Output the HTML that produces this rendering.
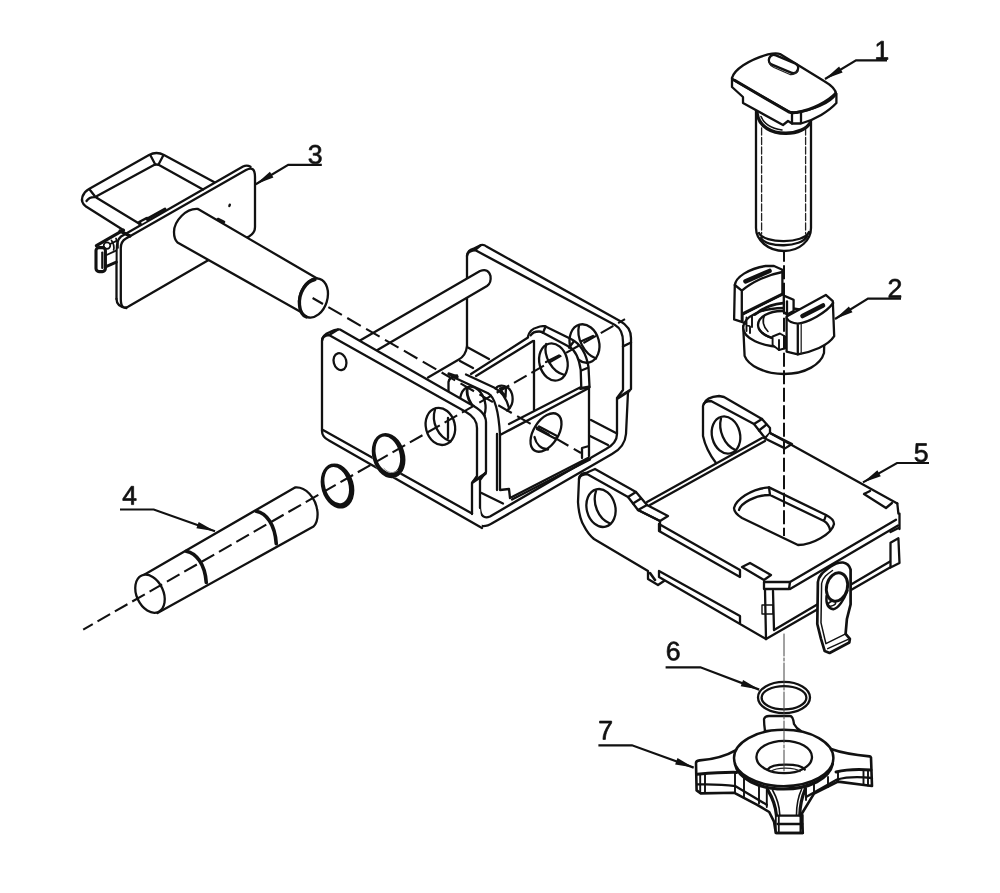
<!DOCTYPE html>
<html><head><meta charset="utf-8">
<style>
html,body{margin:0;padding:0;background:#fff;overflow:hidden;width:1000px;height:893px;}
svg{display:block;filter:blur(0.35px);}
text{font-family:"Liberation Sans",sans-serif;font-size:26px;fill:#111;stroke:#111;stroke-width:0.55px;}
.m{fill:none;stroke:#111;stroke-width:2.3;stroke-linecap:round;stroke-linejoin:round;}
.w{fill:#fff;stroke:#111;stroke-width:2.3;stroke-linecap:round;stroke-linejoin:round;}
.t{fill:none;stroke:#222;stroke-width:1.3;stroke-linecap:round;stroke-linejoin:round;}
.k{fill:none;stroke:#111;stroke-width:3.6;stroke-linecap:round;stroke-linejoin:round;}
.d{fill:none;stroke:#111;stroke-width:2.1;stroke-dasharray:14 5.5;}
.l{fill:none;stroke:#111;stroke-width:2.2;stroke-linecap:butt;stroke-linejoin:miter;}
.a{fill:#111;stroke:none;}
.g{fill:#111;stroke:#111;stroke-width:56;stroke-linejoin:round;}
</style></head>
<body>
<svg width="1000" height="893" viewBox="0 0 1000 893">
<rect width="1000" height="893" fill="#fff"/>

<!-- ===== PART 3 ===== -->
<g id="p3">
<!-- handle loop -->
<path class="m" d="M124,230.5 L86,206.5 Q80.5,202.5 82.5,196.5 Q84.5,191.5 89,189 L149,155 Q156.5,151 164,155 L214,182"/>
<path class="m" d="M139,223.5 L97,198 L97,196 L154,165 Q156.5,164 159,165 L203,189.5"/>
<path class="m" d="M90,190 L95.5,197 M86.5,201 Q90,196 97,197.5"/>
<path class="m" d="M150.5,155.5 L155,164 M163,156 L158.5,164.5"/>
<!-- plate -->
<path class="m" d="M116.5,299 V252 Q116.5,240 121,236.5 L243,166.5 Q247,164.5 250.5,166.8"/>
<path class="m" d="M116.5,299 Q116.5,306.5 126.4,308"/>
<path class="w" d="M120.8,299 V248 Q120.8,241.5 126,238.6 L246,170 Q255,165 255,177 V227 Q255,233 249,236.5 L247,237.6 L208.6,260 L128,306.8 Q120.8,310 120.8,299 Z"/>
<ellipse class="a" cx="229.6" cy="205.4" rx="1.3" ry="1.9" transform="rotate(20 229.6 205.4)"/>
<!-- cylinder -->
<path class="w" d="M198,209 C186,208 174,221 174,232 C174,238 176,241 177.5,242.5 L300,311.5 L318,279 Z"/>
<ellipse class="w" cx="313.5" cy="298" rx="13.8" ry="20" transform="rotate(17.5 313.5 298)"/>
<path class="k" d="M315,279.5 C306,281 298.5,293 299.5,305 C300,311 302.5,315.5 306.5,317" style="stroke-width:3.3"/>
<path class="k" d="M218,219 L224,222" style="stroke-width:2.6"/>
<!-- latch -->
<path class="w" d="M95.5,247 L115.4,237 V263 L106,268.5 L103,272.5 L97,271 Z" style="stroke:none"/>
<path class="m" d="M96.4,245.6 L123.4,230.2" style="stroke-width:3.2"/>
<path class="m" d="M101.5,248.3 L117,240.6" style="stroke-width:1.8"/>
<circle class="w" cx="107" cy="245.6" r="3.3" style="stroke-width:1.7"/>
<path class="m" d="M111.5,240.5 Q114.8,245 113.6,250 M116,238.5 Q118.6,243 118,248" style="stroke-width:1.7"/>
<rect x="96" y="247.6" width="9.4" height="24" rx="3" class="w" style="stroke-width:3.1"/>
<path class="m" d="M102.3,252.5 V268" style="stroke-width:2.2"/>
<path class="m" d="M106.6,255 L116,250.6" style="stroke-width:1.8"/>
<path class="m" d="M106.6,266.4 L116.3,262.2" style="stroke-width:3"/>
<path class="m" d="M120,231 L130,236" style="stroke-width:3.2"/>
<!-- small marks -->
<path class="k" d="M139.5,222.8 L147,218.8" style="stroke-width:4"/>
<path d="M141.5,223 L146.5,220.4" style="stroke:#fff;stroke-width:1.5;fill:none"/>
<path class="k" d="M147,219 L165,209" style="stroke-width:2.8"/>
</g>


<!-- ===== MAIN BRACKET ===== -->
<g id="bracket">
<!-- rear wall -->
<path class="w" d="M467,346 V256 Q468,250 473,249 L481,245 Q484,244.3 486.5,246.5 L620,321 Q631,327 631,338 V389 L628,392 L626,434 Q625,447 612,454 L482,528 L428,400 Z" style="stroke:none"/>
<path class="m" d="M467,256 Q468,250 473,249 L481,245 Q484,244.3 486.5,246.5 L620,321 Q631,327 631,338 V389 L628,392 L626,434 Q625,447 612,454 L493,522.8 C484,528.5 474,528 473,513"/>
<path class="m" d="M467,346 V256 Q467,251 475,250 L615,325 Q623,329.5 623,342 V390 L617,398 V434 Q617,443 606,449 L490,516.5 Q481,520 480,508"/>
<path class="m" d="M475,250 L481,245.2 M623,346.4 L631,342.5"/>
<path class="k" d="M618,398 L629,391" style="stroke-width:2.8"/>
<!-- rear wall hole -->
<ellipse class="w" cx="584.5" cy="343.5" rx="14.6" ry="19.5" transform="rotate(-15 584.5 343.5)"/>
<path class="m" d="M579,325.5 C576,338 584,354 596,358.5 M581.3,341.2 L593,336"/>
<!-- fillet / floor lines -->
<path class="m" d="M467,346 Q466,356 458,360 L428,377.5"/>
<path class="m" d="M467,347 L489,359 M460,361 L473,368 M591,420 L616,433 M590,436 L608,445"/>
<!-- rod -->
<path class="w" d="M360,340.5 L480,271 Q488.5,268 490.5,276 Q491.5,283 487,286 L377,350.3 Z" style="stroke:none"/>
<path class="m" d="M360,340.5 L480,271 Q488.5,268 490.5,276 Q491.5,283 487,286 L377,350.3"/>
<!-- inner piece: left web top edge -->
<path class="m" d="M471,374 L528,337.5 M476,376 L533,341"/>
<!-- rear tab -->
<path class="w" d="M534,410 V341 L530.6,335.4 Q533,331.5 539,331.5 Q541,331.5 543,332.75 L569.6,347 Q577,351 580.7,369.8 L581.3,388 Z" style="stroke:none"/>
<path class="m" d="M534,410 V341 M530.6,335.4 Q533,331.5 539,331.5 Q541,331.5 543,332.75 L569.6,347 Q578,352 580.7,369.8 L581.3,388"/>
<path class="m" d="M528,336.5 Q530,329 537,327.5 Q541,325.5 545,326.25 L571,339 Q585,346 588.5,367 L589.5,387"/>
<path class="m" d="M545.6,326.5 L543,332.75 M573.5,341.8 L569,347.7 M588,367.8 L581.3,370.5"/>
<ellipse class="m" cx="553.4" cy="362" rx="14" ry="18.8" transform="rotate(-14 553.4 362)"/>
<path class="m" d="M546.2,344 C543,356 552,372 564.5,375 M546,362 L559,355.5"/>
<!-- front tab of inner piece -->
<path class="m" d="M448.5,391 V382 Q449.5,376.5 457,375.5"/>
<path class="k" d="M449,374 L457,376.8" style="stroke-width:3.4"/>
<path class="m" d="M466,374.5 L494,387.5 Q505,393 509,408"/>
<path class="m" d="M452,376.5 L488,393.2 Q498,398.5 500,435"/>
<path class="m" d="M495.5,388.5 C500,383.5 509,385 512,394 C514,402 511,408 507,410.5"/>
<path class="m" d="M500,388.5 L506,387.3 L505.5,397 Z"/>
<ellipse class="m" cx="472.8" cy="404.4" rx="12.4" ry="18" transform="rotate(-14 472.8 404.4)"/>
<path class="m" d="M467.5,387.5 C465,397 474,412 484.5,415.5" style="stroke-width:2.8"/>
<path class="m" d="M459.4,411.3 L465.6,408 M466.2,410.6 L472.5,407.5"/>
<!-- right web (plate with hole) -->
<path class="w" d="M500,435 L509,424 L580,387 L589,388 V456 L588,458 L510,498 L509,489 L500,490 Z" style="stroke:none"/>
<path class="m" d="M509,424 L580,387.5 M500,435 L589,388 V456 M497,434 V490 M500,435 V490 L509,489 L510,498 L588,458 M582,458 V448 L589,446"/>
<path class="k" d="M580.5,388.5 L589,387" style="stroke-width:3"/>
<ellipse class="m" cx="546" cy="432.5" rx="12.3" ry="21.4" transform="rotate(32.6 546 432.5)"/>
<path class="m" d="M534.5,437 C536,444 541,449 548,449.5" />
<path class="m" d="M537,429 L555,438.5 M539,426.5 L557,436"/>
<!-- lines under right web: floor -->
<path class="m" d="M481.5,493 L503,503.5"/>
<path class="m" d="M512,499.5 L590,459.5"/>
<!-- front wall -->
<path class="w" d="M322,341 Q322,335 330,332 Q336,328.5 340,329.5 L470,404 Q486,412 486,422 V472 L480,480 V508 L482,528 L329,440.5 Q322,437 322,431 Z" style="stroke:none"/>
<path class="m" d="M322,341 Q322,335 330,332 Q336,328.5 340,329.5 L470,404 Q486,412 486,422 V472 L480,480 V508"/>
<path class="m" d="M322,431 V341 Q322,335.5 329,335 L466,412 Q477,418 477,428 V476 L472,483 V514"/>
<path class="m" d="M322,431 Q322,437 329,440.5 L482,528 M323,430 L472,513.5 M330,334.5 L338,329.6"/>
<path class="k" d="M473,482 L485.5,473.5" style="stroke-width:2.8"/>
<ellipse class="m" cx="340" cy="361.6" rx="6.3" ry="8.6" transform="rotate(-15 340 361.6)"/>
<ellipse class="m" cx="440.4" cy="426.4" rx="14.5" ry="18.8" transform="rotate(-14 440.4 426.4)"/>
<path class="m" d="M435,409.5 C431,422 438,437 450.5,441.5 M448,418 V438"/>
<!-- rod lines over plate top -->

<!-- ring on bracket -->
<path d="M404.17,451.13 A16.20,22.80 -16.0 1 0 373.03,460.07 A16.20,22.80 -16.0 1 0 404.17,451.13 Z" fill="#fff" stroke="none"/>
<path d="M404.17,451.13 A16.20,22.80 -16.0 1 0 373.03,460.07 A16.20,22.80 -16.0 1 0 404.17,451.13 Z M398.95,451.50 A11.60,18.60 -16.0 1 0 376.65,457.90 A11.60,18.60 -16.0 1 0 398.95,451.50 Z" fill="#111" fill-rule="evenodd" stroke="none"/>
<path class="t" d="M384,468.5 C388,473 393,474 397.5,470.5" style="stroke:#888;stroke-width:1"/>
</g>

<!-- ===== PART 5 ===== -->
<g id="p5">
<!-- rear ear -->
<path class="w" d="M716,463 Q706,450 703,436 L704,404 Q706,397 719,396 L724,397 L762,419 L770,428 V433 L765,441 Z" style="stroke:none"/>
<path class="m" d="M716,463 Q706,450 703,436 V406 Q703.5,401 711,401 L754,424 L765,438"/>
<path class="m" d="M704,404 Q706,397 719,396 L724,397 L762,419 L770,428 V433"/>
<path class="m" d="M754,424 L762,419 M759,430.5 L766.5,424.5 M765,438 L770,433"/>
<ellipse class="m" cx="726" cy="435" rx="14" ry="18.8" transform="rotate(-14 726 435)"/>
<path class="m" d="M721,418.5 C718,430 724,445 735.5,450"/>
<!-- main body -->
<path class="w" d="M650,505 L765,441 L770,433 L897.3,503.5 L899.5,529 V563 L766,639 L659,577 L648,571 L594,539 Q580,525 578,502 L579,479 Q580,473 586,473 L595,469 L636,492 L647,502 Z" style="stroke:none"/>
<!-- NW double line -->
<path class="m" d="M647,502 L762,438 M650,505 L765,441"/>
<!-- NE edge -->
<path class="m" d="M770,433 L897.3,503.5"/>
<!-- notches -->
<path class="m" d="M770,433 L792,444 L785,448.4 L764,438"/>
<path class="m" d="M864,494 L870,491 M864,494 L886,508 L892,503"/>
<path class="m" d="M742,567 L750,563 L771,575 L764,580 Z"/>
<path class="m" d="M647,505 L668,516 L660,521 L638,510"/>
<!-- front ear -->
<path class="m" d="M579,479 Q579.5,474.5 587,474 L628,497 L638,510 L660,521 V531"/>
<path class="m" d="M579,479 Q580,473 586,473 L595,469 L636,492 L647,505"/>
<path class="m" d="M628,497 L636,492 M633,503.5 L641,498.5 M638,510 L647,505"/>
<path class="m" d="M579,479 L578,502 Q579,518 584,526 Q588,534 594,539 L648,571 V579 L658,585 L664,581"/>
<ellipse class="m" cx="601" cy="508" rx="14.3" ry="19.2" transform="rotate(-14 601 508)"/>
<path class="m" d="M596,491 C592,503 598,519 610,523.5"/>
<!-- SW face strips -->
<path class="m" d="M659,531 V524 L740,570 V577 Z"/>
<path class="m" d="M659,577 V571 L740,616 V623 M659,577 L766,639"/>
<path class="k" d="M650,573 L655,580" style="stroke-width:2.6"/>
<!-- front corner -->
<path class="m" d="M764,582 H790 L789,589 H764 Z"/>
<path class="m" d="M765,590 L766,639 M773,591 L774,630"/>
<path class="m" d="M762,605 H773 V614 H762 Z" style="stroke-width:1.4"/>
<!-- SE face -->
<path class="m" d="M790,582 L896,519.75 M790,589 L898,525.5"/>
<path class="m" d="M774,630 L890,561.5 M766,639 L890,567.5"/>
<path class="m" d="M897.3,503.5 L898.4,513.6 H899.5 V529 M890.5,542.7 L898.4,538.2 L899.5,563 L890.5,567.5 Z M890.5,532 L898.5,528"/>
<!-- slot -->
<path class="m" d="M734,508 C736,500 750,489 769,487.4 L826,515 Q834,519 834,524 C832,534 812,545 798,545 L742,518 Q734,513 734,508 Z"/>
<path class="m" d="M739,510 C741,503 755,495 770,495 L824,521 Q829,524 830,530 M769,487.4 L770,495 M826,515 L824,521"/>
<!-- clip -->
<path class="w" d="M817.9,582 C818.5,575 824.7,571 830,567 C835,563.5 839.5,562.3 843,562.5 Q849,563.5 850.6,569.7 V604.3 L846.9,619 L845.6,633.8 L849.9,638.8 L849.3,642.5 L829.6,653 L824.7,651 L821,638.8 L817.3,624 Z" style="stroke-width:2.7"/>
<path class="m" d="M821.6,583.5 C822.5,577.5 827.5,574 832.5,570.5 M821.6,583.5 L821,622.8 L825.9,643.7 L845.6,633.8 M827.7,648.6 L848.1,639.4" style="stroke-width:1.5"/>
<ellipse class="m" cx="837" cy="587" rx="10.4" ry="14.4" transform="rotate(14 837 587)" style="stroke-width:2.9"/>
<path class="m" d="M826.5,596 C825.8,604 828.5,608.5 833.3,609.2 C838,608.5 844,600 847.5,590.7" style="stroke-width:2.4"/>
<ellipse class="m" cx="832" cy="603.6" rx="3.8" ry="2.2" transform="rotate(-20 832 603.6)" style="stroke-width:1.4"/>
</g>

<!-- ===== PART 7 knob ===== -->
<g id="p7">
<!-- top arm -->
<path class="w" d="M765,731 Q764,724 764,719 Q765,716 769,716 H790 Q793,716 794,724 Q796,728 801,731 Z"/>
<!-- arms silhouette -->
<path class="w" d="M737,749.6 C726,756 712,759.5 699.6,760.4 Q696,761 696,763 L696.6,790.4 L700.8,793.4 L734.4,792.8 L757.2,804.8 L769.2,812 L774,821.6 L775.8,833 H802.8 L801,815 L814,793.6 L838,781.6 L872,786 L871,757.6 Q870.5,756.5 869.6,756.4 C855,755 842,753 831,749 Z" style="stroke-width:2.6"/>
<!-- left arm lines -->
<path class="m" d="M697.2,774.2 C712,773 726,772.2 736.8,772.4" style="stroke-width:3"/>
<path class="m" d="M697.2,784.4 C712,784 724,784.5 735.6,786.2 L766.8,804.8"/>
<path class="m" d="M700.2,775 V793 M705,774.6 V792.6 M735,772.5 V792.6 M744,777 V796.5 M759,787 V803.5 M766.8,789 V807" style="stroke-width:1.9"/>
<!-- right arm lines -->
<path class="m" d="M871,770 C858,769 846,769.5 836,772" style="stroke-width:3"/>
<path class="m" d="M872,778 C859,776.5 846,777 837,779.5 L806,797"/>
<path class="m" d="M868,770.5 V785.5 M863.5,770 V785 M838,772 V781.6 M828,777 V787 M814,784 V793.6 M806,788 V800" style="stroke-width:1.9"/>
<!-- bottom arm -->
<path class="m" d="M768,790.4 C772,797 775.5,806 776.4,815 M805.2,789.2 C802,797 800,806 799.8,815" style="stroke-width:3.2"/>
<path class="m" d="M772.5,790 C777,798 779.5,806 779.8,815 M801.5,789.5 C798,797 796.5,806 796.5,815" style="stroke-width:1.6"/>
<path class="m" d="M776.4,815.6 H801.6 M777.6,824 H802.3 M776.4,833 H802.8" />
<path class="m" d="M775.8,815 V833 M778.8,816 V832.4 M800.4,816 V832.4 M802.8,815 V832.4" style="stroke-width:1.8"/>
<!-- disc -->
<path class="w" d="M734,760 C734,748 752,730 783.7,730 C815,730 833.5,748 833.5,760 C833.5,775 812,789.5 783.7,789.5 C755,789.5 734,775 734,760 Z" style="stroke:none"/>
<path class="m" d="M735.2,764 C738,778 758,789 783.7,789 C810,789 829.5,778 832.5,764" style="stroke-width:3.2"/>
<ellipse class="w" cx="783.7" cy="758" rx="49.7" ry="28.2" style="stroke-width:2.5"/>
<ellipse class="m" cx="784.2" cy="757" rx="27.8" ry="16.2"/>
<path class="m" d="M767.6,769.6 C772,763 800,763 804.8,769.6"/>
<path class="t" d="M771,771.5 C776,767 795,767 800,771.5"/>
</g>

<!-- ===== PART 4 pin ===== -->
<g id="p4">
<path class="w" d="M143.75,575 L295,487.5 C305,486.5 316,497 317.5,512 C318,519 316,524 313.5,526.5 L157.5,613 Z"/>
<ellipse class="w" cx="150" cy="593.75" rx="13.4" ry="20" transform="rotate(-24.6 150 593.75)"/>
<path class="k" d="M186.25,551.25 C196,553 205,564 206.25,582.5"/>
<path class="k" d="M256.25,511.25 C266,513 275,524 276.25,543.75"/>
</g>

<!-- rings -->
<path d="M353.07,481.53 A16.20,22.80 -16.0 1 0 321.93,490.47 A16.20,22.80 -16.0 1 0 353.07,481.53 Z M347.85,481.90 A11.60,18.60 -16.0 1 0 325.55,488.30 A11.60,18.60 -16.0 1 0 347.85,481.90 Z" fill="#111" fill-rule="evenodd" stroke="none"/>

<!-- ===== PART 1 bolt ===== -->
<g id="p1">
<!-- shaft -->
<path class="w" d="M756,108 V228 C756,240 768,251 784,251 C800,251 811,240 811,228 V120 Z"/>
<path class="m" d="M761,238 C766,248 802,248 807,236"/>
<path class="m" d="M759,233 C764,244 804,244 809,232"/>
<path class="t" d="M761.6,128 V234 M805.6,128 V234" style="stroke-dasharray:7 2.5"/>
<path class="m" d="M757,113 C759,127 772,133.5 786,133.3 C798,133 807,128.5 810,123" style="stroke-width:3.4"/>
<path class="m" d="M761,116.5 C764,124 772,128.5 782,130" style="stroke-width:1.6"/>
<!-- head -->
<path class="w" d="M732,78 V87 L743,97 V103 L783,125 L788,121 L792,123.5 H801 C815,120 829,111 836.4,103 V94 Z"/>
<path class="w" d="M732,78 C734,70 748,60 768,54.4 Q776,52.5 780,54 L824,81 Q836,88 836,94 C830,103 812,111 794,112.4 Q790.5,112.6 788,111 L737,82 Q733,80 732,78 Z"/>
<path class="m" d="M734.6,80.3 L788.5,111.8 Q792,113.4 797,112.4 C812,110 828,101.5 835.6,93.5" style="stroke-width:3"/>
<path class="m" d="M792,112.5 V123.5 M801,111.8 V123"/>
<path class="m" d="M774,60 L793,68" style="stroke-width:12.6;stroke:#111"/>
<path class="m" d="M774,60 L793,68" style="stroke-width:7.8;stroke:#fff"/>
<path class="t" d="M769,62.5 C770,65.5 772,66.5 774,67.5 L790,74.5 Q795,75 798,71"/>
</g>

<!-- ===== PART 2 clip ===== -->
<g id="p2">
<!-- base cylinder -->
<path class="w" d="M743.2,326 L744.6,355.8 C748,365 764,374 784,374 C806,374 821,364 824,353 L824.4,338 Z"/>
<!-- top ring of base -->
<ellipse class="w" cx="783.8" cy="327.5" rx="40.6" ry="19.5"/>
<ellipse class="w" cx="782" cy="325" rx="24" ry="14"/>
<path class="m" d="M759,329 C764,337 776,340.5 790,339.5" />
<path class="m" d="M764.5,315.5 C762,320 763,327 768,331.5" style="stroke-width:1.6"/>
<!-- center tabs -->
<path class="w" d="M783.8,295.6 L793.6,299.8 V311 L787,314.5 L783.8,312 Z"/>
<path class="m" d="M787,301.5 V314"/>
<path class="w" d="M772.6,336.5 L780,333.5 L786,337 V348 L779,350 L772.6,345 Z" style="stroke-width:1.9"/>
<path class="m" d="M779,340 V350" style="stroke-width:1.9"/>
<!-- left ear -->
<path class="w" d="M734.8,285 C736,277 748,269 765.6,266 L774,266 L782.4,269.7 V294.2 L742.5,314.5 V322.2 L734.1,319.4 Z"/>
<path class="m" d="M734.8,285 L741.8,290.7 C752,282 768,274.5 782.4,272 M741.8,290.7 V321"/>
<path class="m" d="M742.5,313.8 L782.4,294.2" style="stroke-width:3"/>
<path class="m" d="M755,314.5 C762,308.5 772,304.5 783,303.2" style="stroke-width:2.8"/>
<path class="k" d="M745.5,281.3 L769.5,271" style="stroke-width:4.6"/>
<path class="m" d="M742.5,322.2 L750,326.5 V333 M746.5,317.5 V331 M752,316 V327" style="stroke-width:1.9"/>
<!-- right ear -->
<path class="w" d="M786.6,316.6 L825.8,294.9 L832.8,301.2 L834.2,336.2 C828,346 812,352 797.8,354.4 L786.6,351.6 Z"/>
<path class="m" d="M786.6,318 C789,322 794,323.4 797.8,323.6 C808,322.5 826,313 833.2,303 M797.8,323.6 V354.4"/>
<path class="t" d="M801.2,323.4 V353.8"/>
<path class="k" d="M802.5,316 L823,305.5" style="stroke-width:4.6"/>
</g>

<!-- ===== PART 6 ring ===== -->
<ellipse class="m" cx="784" cy="697.5" rx="26" ry="15.6"/>
<ellipse class="m" cx="784" cy="697.7" rx="22.4" ry="11.6"/>

<!-- ===== dashed axes ===== -->
<path class="d" d="M312.6,298 L581,453" style="stroke-dasharray:15.6 6.2;stroke-dashoffset:3.6"/>
<path class="d" d="M83.2,629.6 L625,319.2" style="stroke-dasharray:14.5 5.5;stroke-dashoffset:3.5"/>
<path class="d" d="M784,251.7 V536" style="stroke-dasharray:14 3.5;stroke-dashoffset:4;stroke-width:2"/>
<path class="t" d="M784,634 V771" style="stroke:#444;stroke-width:1;stroke-dasharray:22 2 3 2"/>

<!-- ===== LEADERS ===== -->
<g id="leaders">
<path class="l" d="M887,60.4 H856 L825,79"/>
<path class="a" d="M825.0,79.0 L842.6,72.4 L839.1,66.6 Z"/>
<path class="g" transform="translate(874.4 59.5) scale(0.012988 -0.012988)" d="M156 0V153H515V1237L197 1010V1180L530 1409H696V153H1039V0Z"/>
<path class="l" d="M901,298.6 H868 L835,319"/>
<path class="a" d="M835.0,319.0 L852.5,312.2 L848.9,306.4 Z"/>
<path class="g" transform="translate(887.5 297.6) scale(0.012988 -0.012988)" d="M103 0V127Q154 244 227.5 333.5Q301 423 382.0 495.5Q463 568 542.5 630.0Q622 692 686.0 754.0Q750 816 789.5 884.0Q829 952 829 1038Q829 1154 761.0 1218.0Q693 1282 572 1282Q457 1282 382.5 1219.5Q308 1157 295 1044L111 1061Q131 1230 254.5 1330.0Q378 1430 572 1430Q785 1430 899.5 1329.5Q1014 1229 1014 1044Q1014 962 976.5 881.0Q939 800 865.0 719.0Q791 638 582 468Q467 374 399.0 298.5Q331 223 301 153H1036V0Z"/>
<path class="l" d="M321.8,164.8 H288.2 L255.8,184.2"/>
<path class="a" d="M255.8,184.2 L273.4,177.6 L269.9,171.8 Z"/>
<path class="g" transform="translate(307.8 163.6) scale(0.012988 -0.012988)" d="M1049 389Q1049 194 925.0 87.0Q801 -20 571 -20Q357 -20 229.5 76.5Q102 173 78 362L264 379Q300 129 571 129Q707 129 784.5 196.0Q862 263 862 395Q862 510 773.5 574.5Q685 639 518 639H416V795H514Q662 795 743.5 859.5Q825 924 825 1038Q825 1151 758.5 1216.5Q692 1282 561 1282Q442 1282 368.5 1221.0Q295 1160 283 1049L102 1063Q122 1236 245.5 1333.0Q369 1430 563 1430Q775 1430 892.5 1331.5Q1010 1233 1010 1057Q1010 922 934.5 837.5Q859 753 715 723V719Q873 702 961.0 613.0Q1049 524 1049 389Z"/>
<path class="l" d="M120,509.5 H153.75 L215,531.25"/>
<path class="a" d="M215.0,531.2 L198.7,521.9 L196.4,528.3 Z"/>
<path class="g" transform="translate(122.2 504.6) scale(0.012988 -0.012988)" d="M881 319V0H711V319H47V459L692 1409H881V461H1079V319ZM711 1206Q709 1200 683.0 1153.0Q657 1106 644 1087L283 555L229 481L213 461H711Z"/>
<path class="l" d="M929,463 H897 L863,482.4"/>
<path class="a" d="M863.0,482.4 L880.8,476.2 L877.4,470.3 Z"/>
<path class="g" transform="translate(913.8 461.8) scale(0.012988 -0.012988)" d="M1053 459Q1053 236 920.5 108.0Q788 -20 553 -20Q356 -20 235.0 66.0Q114 152 82 315L264 336Q321 127 557 127Q702 127 784.0 214.5Q866 302 866 455Q866 588 783.5 670.0Q701 752 561 752Q488 752 425.0 729.0Q362 706 299 651H123L170 1409H971V1256H334L307 809Q424 899 598 899Q806 899 929.5 777.0Q1053 655 1053 459Z"/>
<path class="l" d="M665.6,667.3 H700.4 L759.2,689.6"/>
<path class="a" d="M759.2,689.6 L743.1,679.9 L740.7,686.2 Z"/>
<path class="g" transform="translate(665.8 660.2) scale(0.012988 -0.012988)" d="M1049 461Q1049 238 928.0 109.0Q807 -20 594 -20Q356 -20 230.0 157.0Q104 334 104 672Q104 1038 235.0 1234.0Q366 1430 608 1430Q927 1430 1010 1143L838 1112Q785 1284 606 1284Q452 1284 367.5 1140.5Q283 997 283 725Q332 816 421.0 863.5Q510 911 625 911Q820 911 934.5 789.0Q1049 667 1049 461ZM866 453Q866 606 791.0 689.0Q716 772 582 772Q456 772 378.5 698.5Q301 625 301 496Q301 333 381.5 229.0Q462 125 588 125Q718 125 792.0 212.5Q866 300 866 453Z"/>
<path class="l" d="M598.4,745.3 H632 L693.7,767.6"/>
<path class="a" d="M693.7,767.6 L677.5,758.1 L675.1,764.5 Z"/>
<path class="g" transform="translate(598.2 739.4) scale(0.012988 -0.012988)" d="M1036 1263Q820 933 731.0 746.0Q642 559 597.5 377.0Q553 195 553 0H365Q365 270 479.5 568.5Q594 867 862 1256H105V1409H1036Z"/>
</g>
</svg>
</body></html>
